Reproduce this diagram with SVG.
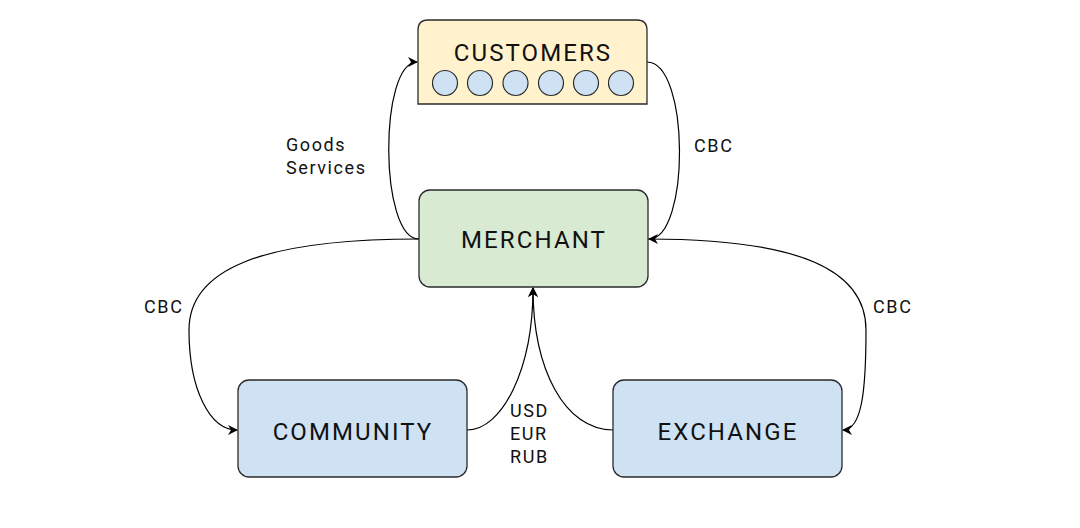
<svg xmlns="http://www.w3.org/2000/svg" width="1080" height="528" viewBox="0 0 1080 528">
<defs>
<marker id="arr" viewBox="0 0 10 10" refX="9" refY="5" markerWidth="10" markerHeight="10" markerUnits="userSpaceOnUse" orient="auto">
<path d="M0,0 L10,5 L0,10 L3,5 Z" fill="#000"/>
</marker>
<style>
.box{stroke:#2b2b2b;stroke-width:1.3}
.title{font-family:Roboto,"Liberation Sans",sans-serif;font-size:24px;letter-spacing:2.1px;fill:#111;text-anchor:middle}
.lbl{font-family:Roboto,"Liberation Sans",sans-serif;font-size:18px;letter-spacing:1.6px;fill:#111}
.edge{fill:none;stroke:#000;stroke-width:1.2;marker-end:url(#arr)}
.dot{fill:#cfe2f3;stroke:#2b2b2b;stroke-width:1.2}
</style>
</defs>
<rect width="1080" height="528" fill="#fff"/>
<g id="connectors">
<path class="edge" d="M419,239 C379,239 379,62 417,62"/>
<path class="edge" d="M647,62 C690,62 690,239 649,239"/>
<path class="edge" d="M419,239 C260,239 189,270 189,330 C189,390 210,430 237,430"/>
<path class="edge" d="M648,239 C800,239 866,270 866,330 C866,390 862,430 843,430"/>
<path class="edge" d="M467,430 C502,430 533,370 533,288"/>
<path class="edge" d="M613,430 C565,430 533,370 533,288"/>
</g>
<g id="customers">
<path class="box" d="M428,20 H637 Q647,20 647,30 V104 H418 V30 Q418,20 428,20 Z" fill="#fff2cc"/>
<text class="title" x="533" y="61">CUSTOMERS</text>
<circle class="dot" cx="445" cy="83" r="12.5"/>
<circle class="dot" cx="480" cy="83" r="12.5"/>
<circle class="dot" cx="515.5" cy="83" r="12.5"/>
<circle class="dot" cx="551" cy="83" r="12.5"/>
<circle class="dot" cx="586" cy="83" r="12.5"/>
<circle class="dot" cx="621" cy="83" r="12.5"/>
</g>
<g id="merchant">
<rect class="box" x="419" y="190" width="229" height="97" rx="11" fill="#d9ead3"/>
<text class="title" x="534" y="248">MERCHANT</text>
</g>
<g id="community">
<rect class="box" x="238" y="380" width="229" height="97" rx="11" fill="#cfe2f3"/>
<text class="title" x="353" y="440">COMMUNITY</text>
</g>
<g id="exchange">
<rect class="box" x="613" y="380" width="229" height="97" rx="11" fill="#cfe2f3"/>
<text class="title" x="728" y="440">EXCHANGE</text>
</g>
<g id="labels">
<text class="lbl" x="286" y="151">Goods</text>
<text class="lbl" x="286" y="174">Services</text>
<text class="lbl" x="694" y="152">CBC</text>
<text class="lbl" x="144" y="313">CBC</text>
<text class="lbl" x="873" y="313">CBC</text>
<text class="lbl" x="510" y="417">USD</text>
<text class="lbl" x="510" y="440">EUR</text>
<text class="lbl" x="510" y="463">RUB</text>
</g>
</svg>
